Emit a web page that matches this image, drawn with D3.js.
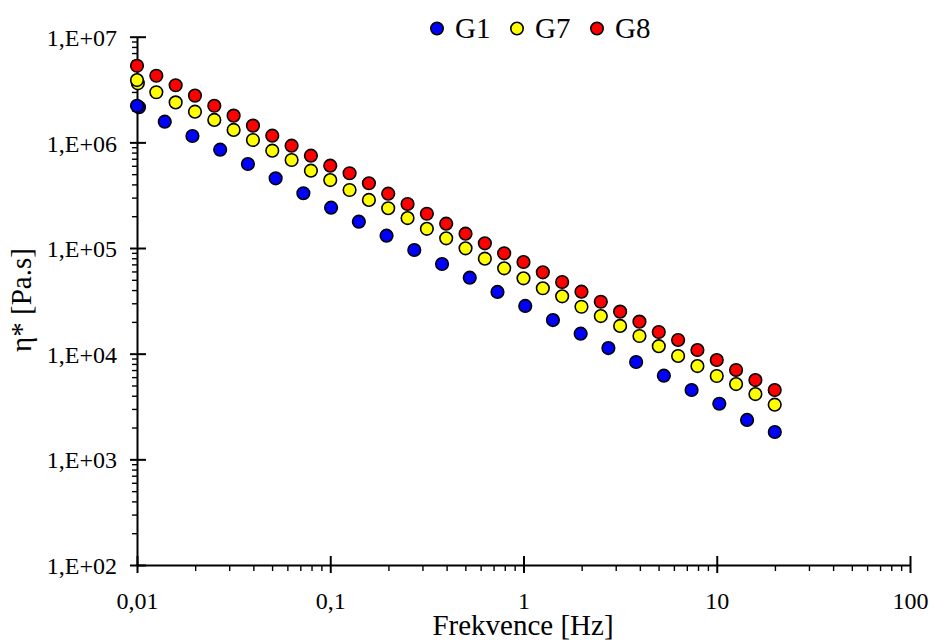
<!DOCTYPE html>
<html>
<head>
<meta charset="utf-8">
<script src="https://cdn.jsdelivr.net/npm/d3@7"></script>
<style>
  html, body { margin: 0; padding: 0; background: #fff; }
  svg { display: block; }
  svg text { font-family: "Liberation Serif", Tinos, "Times New Roman", Times, "DejaVu Serif", serif !important; fill: #000; }
</style>
</head>
<body>
<svg id="chart" width="934" height="642"></svg>
<script>
// Oscillatory frequency sweep: complex viscosity vs. frequency
const seriesNames = ["G1", "G7", "G8"];
const seriesColors = ["#0000ff", "#ffff00", "#ff0000"];

// G1 frequencies [Hz] and complex viscosity [Pa.s]
const freqG1 = [0.01, 0.01024, 0.01392, 0.01936, 0.02694, 0.03749, 0.05217, 0.0726, 0.101,
  0.1406, 0.1956, 0.2722, 0.3788, 0.5271, 0.7335, 1.021, 1.42, 1.976, 2.75, 3.827,
  5.325, 7.41, 10.31, 14.35, 19.97];
const etaG1 = [2.22e6, 2.15e6, 1.57e6, 1.149e6, 8.52e5, 6.24e5, 4.57e5, 3.30e5, 2.41e5,
  1.775e5, 1.308e5, 9.58e4, 7.06e4, 5.24e4, 3.84e4, 2.83e4, 2.08e4, 1.546e4, 1.131e4, 8.34e3,
  6.19e3, 4.53e3, 3.36e3, 2.36e3, 1.815e3];

// G7 / G8 frequencies [Hz]
const freqG7 = [0.01, 0.0101, 0.01259, 0.01585, 0.01995, 0.02512, 0.03162, 0.03981, 0.05012,
  0.0631, 0.07943, 0.1, 0.1259, 0.1585, 0.1995, 0.2512, 0.3162, 0.3981, 0.5012, 0.631,
  0.7943, 1, 1.259, 1.585, 1.995, 2.512, 3.162, 3.981, 5.012, 6.31, 7.943, 10, 12.59,
  15.85, 19.95];
const etaG7 = [3.89e6, 3.62e6, 2.98e6, 2.39e6, 1.95e6, 1.63e6, 1.31e6, 1.053e6, 8.34e5,
  6.81e5, 5.39e5, 4.40e5, 3.54e5, 2.85e5, 2.38e5, 1.92e5, 1.52e5, 1.236e5, 9.94e4, 7.92e4,
  6.43e4, 5.17e4, 4.16e4, 3.49e4, 2.78e4, 2.27e4, 1.83e4, 1.47e4, 1.177e4, 9.51e3,
  7.64e3, 6.15e3, 5.16e3, 4.15e3, 3.29e3];

const freqG8 = [0.01, 0.01259, 0.01585, 0.01995, 0.02512, 0.03162, 0.03981, 0.05012,
  0.0631, 0.07943, 0.1, 0.1259, 0.1585, 0.1995, 0.2512, 0.3162, 0.3981, 0.5012, 0.631,
  0.7943, 1, 1.259, 1.585, 1.995, 2.512, 3.162, 3.981, 5.012, 6.31, 7.943, 10, 12.59,
  15.85, 19.95];
const etaG8 = [5.31e6, 4.27e6, 3.47e6, 2.77e6, 2.22e6, 1.79e6, 1.44e6, 1.156e6, 9.30e5,
  7.48e5, 6.01e5, 5.10e5, 4.10e5, 3.27e5, 2.61e5, 2.11e5, 1.70e5, 1.366e5, 1.108e5,
  8.91e4, 7.37e4, 5.89e4, 4.77e4, 3.86e4, 3.10e4, 2.50e4, 2.01e4, 1.604e4, 1.348e4,
  1.083e4, 8.71e3, 7.01e3, 5.63e3, 4.53e3];

// Axis ticks and labels
const xMajor = [0.01, 0.1, 1, 10, 100];
const xMajorLabels = ["0,01", "0,1", "1", "10", "100"];
const yMajor = [1e2, 1e3, 1e4, 1e5, 1e6, 1e7];
const yMajorLabels = ["1,E+02", "1,E+03", "1,E+04", "1,E+05", "1,E+06", "1,E+07"];
const minorMultipliers = [2, 3, 4, 5, 6, 7, 8, 9];

const xTitle = "Frekvence [Hz]";
const yTitle = "η* [Pa.s]";

const FONT = "'Liberation Serif', Tinos, 'Times New Roman', Times, 'DejaVu Serif', serif";

const svg = d3.select("#chart");

const x = d3.scaleLog().domain([0.01, 100]).range([137, 910]);
const y = d3.scaleLog().domain([1e2, 1e7]).range([565, 36.7]);

const minorOf = majors => majors.slice(0, -1)
  .flatMap(m => minorMultipliers.map(k => m * k));

// ---- X axis ----
const xMinorAxis = d3.axisBottom(x).tickValues(minorOf(xMajor)).tickSize(6).tickFormat("");
const gxMinor = svg.append("g").attr("transform", `translate(0,${y.range()[0]})`).call(xMinorAxis);
gxMinor.select(".domain").remove();
gxMinor.selectAll(".tick line").attr("stroke", "#000").attr("stroke-width", 1.4);

const xAxis = d3.axisBottom(x).tickValues(xMajor)
  .tickFormat((d, i) => xMajorLabels[i]).tickSizeOuter(0);
const gx = svg.append("g").attr("transform", `translate(0,${y.range()[0]})`)
  .call(xAxis).attr("font-family", FONT);
gx.select(".domain").attr("stroke", "#000").attr("stroke-width", 2);
gx.selectAll(".tick line").attr("y1", -9).attr("y2", 8).attr("stroke", "#000").attr("stroke-width", 2);
gx.selectAll(".tick text").attr("y", 44).attr("dy", null)
  .attr("font-size", 24);

// ---- Y axis ----
const yMinorAxis = d3.axisLeft(y).tickValues(minorOf(yMajor)).tickSize(5).tickFormat("");
const gyMinor = svg.append("g").attr("transform", `translate(${x.range()[0]},0)`).call(yMinorAxis);
gyMinor.select(".domain").remove();
gyMinor.selectAll(".tick line").attr("stroke", "#000").attr("stroke-width", 1.4);

const yAxis = d3.axisLeft(y).tickValues(yMajor)
  .tickFormat((d, i) => yMajorLabels[i]).tickSizeOuter(0);
const gy = svg.append("g").attr("transform", `translate(${x.range()[0]},0)`)
  .call(yAxis).attr("font-family", FONT);
gy.select(".domain").attr("stroke", "#000").attr("stroke-width", 2);
gy.selectAll(".tick line").attr("x1", 9).attr("x2", -7).attr("stroke", "#000").attr("stroke-width", 2);
gy.selectAll(".tick text").attr("x", -20).attr("dy", "0.36em")
  .attr("font-size", 24);

// ---- Axis titles ----
svg.append("text")
  .attr("x", 523).attr("y", 635)
  .attr("text-anchor", "middle")
  .attr("font-family", FONT)
  .attr("font-size", 29)
  .text(xTitle);

svg.append("text")
  .attr("transform", "translate(31,300) rotate(-90)")
  .attr("text-anchor", "middle")
  .attr("font-family", FONT)
  .attr("font-size", 29)
  .text(yTitle);

// ---- Data points (G8 first, then G7, then G1 on top) ----
const series = [
  { name: "G1", freq: freqG1, eta: etaG1, color: seriesColors[0] },
  { name: "G7", freq: freqG7, eta: etaG7, color: seriesColors[1] },
  { name: "G8", freq: freqG8, eta: etaG8, color: seriesColors[2] }
];

const drawOrder = [series[2], series[1], series[0]];
drawOrder.forEach(s => {
  const pts = s.freq.map((f, i) => ({ f, v: s.eta[i] }));
  // near-duplicate low-frequency readings sit underneath
  const ordered = pts.slice().sort((a, b) => b.f - a.f);
  svg.append("g").attr("class", "series-" + s.name)
    .selectAll("circle")
    .data(ordered)
    .join("circle")
    .attr("cx", d => x(d.f))
    .attr("cy", d => y(d.v))
    .attr("r", 6.3)
    .attr("fill", s.color)
    .attr("stroke", "#000")
    .attr("stroke-width", 1.6);
});

// ---- Legend ----
const legendX = [437, 517, 597];
const legend = svg.append("g").attr("class", "legend").attr("font-family", FONT);
series.forEach((s, i) => {
  legend.append("circle")
    .attr("cx", legendX[i]).attr("cy", 28.5).attr("r", 6.2)
    .attr("fill", s.color).attr("stroke", "#000").attr("stroke-width", 1.6);
  legend.append("text")
    .attr("x", legendX[i] + 18).attr("y", 37.5)
    .attr("font-size", 29)
    .text(s.name);
});
</script>
</body>
</html>
